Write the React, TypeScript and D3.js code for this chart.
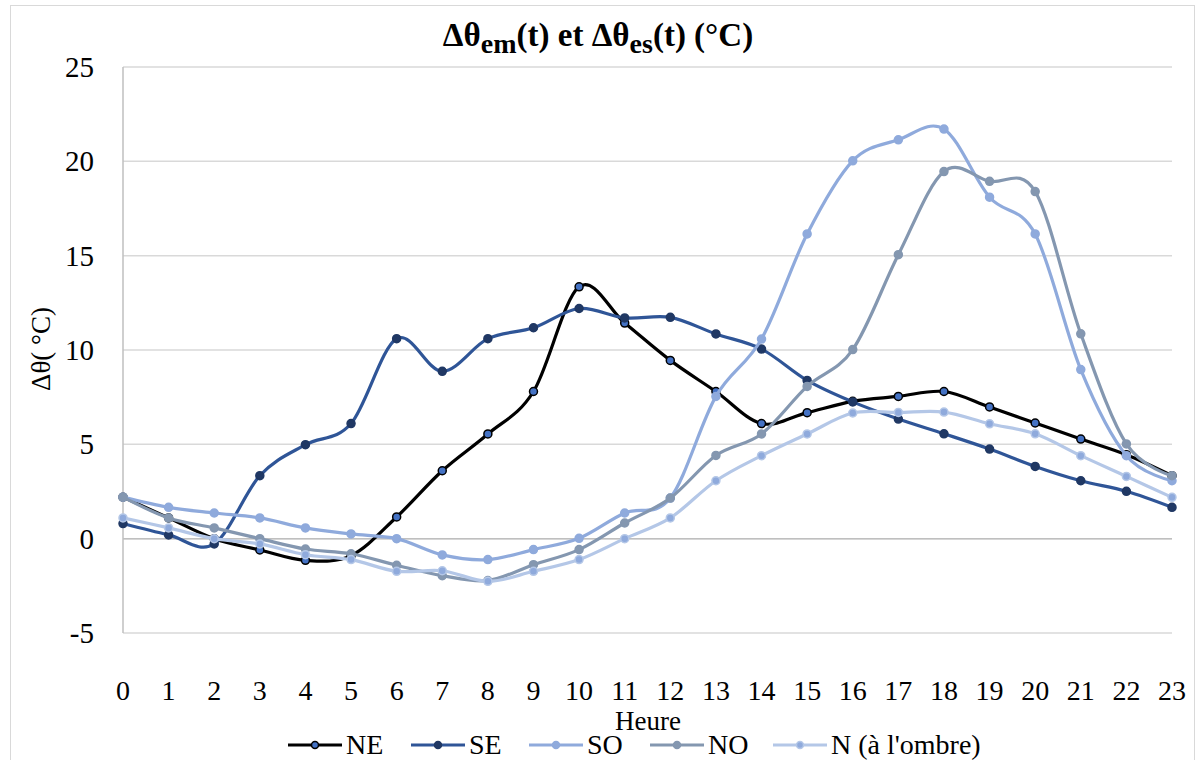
import React from "react";
import * as d3 from "d3";

const hours = d3.range(0, 24);

const seriesNames = ["NE", "SE", "SO", "NO", "N (à l'ombre)"];

const valuesNE = [2.2, 1.1, 0, -0.6, -1.15, -0.9, 1.15, 3.6, 5.55, 7.8, 13.35, 11.43, 9.45, 7.8, 6.1, 6.68, 7.28, 7.54, 7.8, 6.98, 6.13, 5.28, 4.45, 3.34];
const valuesSE = [0.8, 0.2, -0.28, 3.34, 4.98, 6.1, 10.6, 8.87, 10.6, 11.18, 12.2, 11.7, 11.73, 10.85, 10.05, 8.39, 7.25, 6.34, 5.56, 4.75, 3.83, 3.07, 2.51, 1.66];
const valuesSO = [2.2, 1.66, 1.36, 1.1, 0.57, 0.25, 0, -0.86, -1.11, -0.58, 0.02, 1.36, 2.15, 7.54, 10.58, 16.15, 20.03, 21.14, 21.71, 18.1, 16.15, 8.96, 4.4, 3.07];
const valuesNO = [2.2, 1.1, 0.57, 0, -0.55, -0.8, -1.41, -1.96, -2.22, -1.38, -0.58, 0.83, 2.15, 4.41, 5.55, 8.07, 10.02, 15.05, 19.46, 18.94, 18.4, 10.86, 5.02, 3.34];
const valuesN = [1.1, 0.57, 0, -0.28, -0.85, -1.11, -1.73, -1.7, -2.26, -1.73, -1.11, 0, 1.1, 3.07, 4.4, 5.55, 6.66, 6.69, 6.71, 6.09, 5.56, 4.4, 3.3, 2.19];

const yTicks = [-5, 0, 5, 10, 15, 20, 25];

const lineColors = ["#000000", "#2f5597", "#8faadc", "#8497b0", "#b4c7e7"];
const markerFills = ["#4472c4", "#203864", "#8faadc", "#8497b0", "#8faadc"];
const markerStrokes = ["#000000", "#203864", "#8faadc", "#8497b0", "#b4c7e7"];
const legendX = [288, 411, 529, 650, 773];

const allValues = [valuesNE, valuesSE, valuesSO, valuesNO, valuesN];

const FONT = "Liberation Serif";

const App = () => {
  const x = d3.scaleLinear().domain([0, 23]).range([123, 1172]);
  const y = d3.scaleLinear().domain([-5, 25]).range([633, 67]);

  // Excel-style smoothed lines
  const line = d3
    .line<number>()
    .x((d, i) => x(hours[i]))
    .y((d) => y(d))
    .curve(d3.curveCardinal.tension(0));

  return (
    <svg
      width={1200}
      height={760}
      style={{ position: "absolute", left: 0, top: 0, background: "#fff" }}
    >
      <rect x={10.5} y={5.5} width={1184} height={770} fill="#fff" stroke="#d9d9d9" />

      {yTicks.map((t) => (
        <line key={"g" + t} x1={x(0)} x2={x(23)} y1={y(t)} y2={y(t)} stroke="#d9d9d9" strokeWidth={1.5} />
      ))}
      <line x1={x(0)} x2={x(0)} y1={y(25)} y2={y(-5)} stroke="#bfbfbf" strokeWidth={1.5} />
      <line x1={x(0)} x2={x(23)} y1={y(0)} y2={y(0)} stroke="#bfbfbf" strokeWidth={1.5} />

      {yTicks.map((t) => (
        <text key={"yt" + t} x={94} y={y(t) + 10} fontSize={29} textAnchor="end" fill="#000" fontFamily={FONT}>
          {t}
        </text>
      ))}
      {hours.map((h) => (
        <text key={"xt" + h} x={x(h)} y={700} fontSize={28} textAnchor="middle" fill="#000" fontFamily={FONT}>
          {h}
        </text>
      ))}

      <text x={648} y={730} fontSize={27} textAnchor="middle" fontFamily={FONT}>
        Heure
      </text>
      <text transform="translate(50,349) rotate(-90)" fontSize={27} textAnchor="middle" fontFamily={FONT}>
        Δθ( °C)
      </text>

      <text x={598} y={46} fontSize={33} fontWeight="bold" textAnchor="middle" fontFamily={FONT}>
        Δθ<tspan fontSize={28} dy={7}>em</tspan>
        <tspan dy={-7}>(t) et Δθ</tspan>
        <tspan fontSize={28} dy={7}>es</tspan>
        <tspan dy={-7}>(t) (°C)</tspan>
      </text>

      {allValues.map((vals, si) => (
        <g key={"s" + si}>
          <path d={line(vals) || ""} fill="none" stroke={lineColors[si]} strokeWidth={3.2} strokeLinejoin="round" />
          {vals.map((v, i) => (
            <circle
              key={i}
              cx={x(hours[i])}
              cy={y(v)}
              r={4}
              fill={markerFills[si]}
              stroke={markerStrokes[si]}
              strokeWidth={1.5}
            />
          ))}
        </g>
      ))}

      {seriesNames.map((name, si) => (
        <g key={"l" + si}>
          <line x1={legendX[si]} x2={legendX[si] + 54} y1={745} y2={745} stroke={lineColors[si]} strokeWidth={3.2} />
          <circle cx={legendX[si] + 27} cy={745} r={3.5} fill={markerFills[si]} stroke={markerStrokes[si]} strokeWidth={1.5} />
          <text x={legendX[si] + 58} y={754} fontSize={28} fontFamily={FONT}>
            {name}
          </text>
        </g>
      ))}
    </svg>
  );
};

export default App;
